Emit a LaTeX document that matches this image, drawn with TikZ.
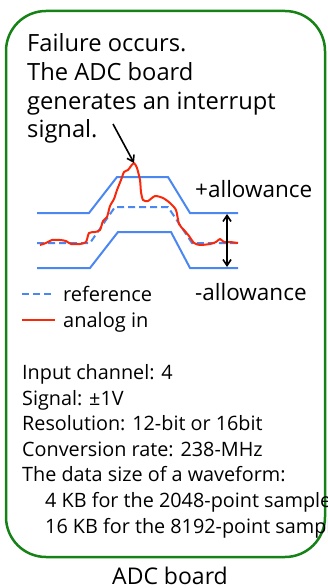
\documentclass[tikz,border=0pt]{standalone}
\usepackage{fontspec}
\setmainfont{Open Sans}
\usetikzlibrary{arrows.meta}
\definecolor{boxgreen}{RGB}{20,130,20}
\definecolor{limblue}{RGB}{75,135,240}
\definecolor{sigred}{RGB}{250,40,10}
\tikzset{limit/.style = {color = limblue, line width = 2pt}}
\tikzset{refline/.style = {limit, dash pattern = on 7pt off 4pt}}
\tikzset{sigline/.style = {color = sigred, line width = 2pt, line join = round}}
\tikzset{txt/.style = {anchor = base west, inner sep = 0}}
\tikzset{big/.style = {txt, font = \fontsize{23.7}{28}\selectfont}}
\tikzset{small/.style = {txt, font = \fontsize{19.8}{25}\selectfont}}
\tikzset{ptr/.style = {-{Straight Barb[length=6pt, width=8pt]}, line width = 1.6pt}}

\begin{document}
\begin{tikzpicture}[x = 1pt, y = -1pt]
    \useasboundingbox (0,0) rectangle (328,588);
    \clip (0,0) rectangle (328,588);
    \draw[color = boxgreen, line width = 2.5pt, rounded corners = 40pt] (6,11) rectangle (325,557);
    % message
    \node[big] (fail) at (27,52) {Failure occurs.};
    \node[big] (adc) at (27,81) {The ADC board};
    \node[big] (gen) at (27,110) {generates an interrupt};
    \node[big] (sig) at (27,138) {signal.};
    % allowance band
    \draw[limit] (37,213) -- (89,213) -- (117,177) -- (168,177) -- (190,213) -- (238,213);
    \draw[limit] (37,268) -- (90,268) -- (118,232) -- (171,232) -- (190,268) -- (238,268);
    \draw[refline] (37,243) -- (90,243) -- (115,207) -- (168,207) -- (192,243) -- (238,243);
    \draw[sigline] plot[smooth, tension = 0.4] coordinates {
        (40,245) (46,243) (52,240) (60,240) (66,241) (71,244) (80,244) (86,242)
        (89,233) (95,232) (100,230) (103,221) (107,217) (110,206) (114,199)
        (117,190) (121,180) (124,172) (128,170) (131,166) (134,163) (137,168)
        (140,180) (141,192) (143,200) (148,201) (155,196) (163,198) (170,203)
        (176,210) (179,224) (184,230) (189,236) (194,243) (200,245) (210,244)
        (216,242) (220,239) (224,242) (230,242) (238,243)};
    \coordinate (peak) at (134,163);
    \coordinate (tail) at (113,124);
    \draw[ptr] (tail) -- (peak);
    \coordinate (hi) at (227,214);
    \coordinate (lo) at (227,267);
    \draw[ptr, {Straight Barb[length=6pt, width=8pt]}-{Straight Barb[length=6pt, width=8pt]}] (hi) -- (lo);
    \node[txt, font = \fontsize{22.5}{28}\selectfont] (plus) at (195,197) {+allowance};
    \node[txt, font = \fontsize{22.5}{28}\selectfont] (minus) at (195,300) {-allowance};
    % legend
    \coordinate (refkey) at (22,294);
    \coordinate (sigkey) at (22,320);
    \draw[refline] (refkey) -- ++(32,0);
    \draw[sigline] (sigkey) -- ++(33,0);
    \node[txt, font = \fontsize{20}{25}\selectfont] (reflab) at (63,301) {reference};
    \node[txt, font = \fontsize{20}{25}\selectfont] (siglab) at (63,327) {analog in};
    % specs
    \node[small] (chan) at (22,379) {Input channel: 4};
    \node[small] (volt) at (22,405) {Signal: ±1V};
    \node[small] (res) at (22,430.5) {Resolution: 12-bit or 16bit};
    \node[small] (rate) at (22,456) {Conversion rate: 238-MHz};
    \node[small] (size) at (22,481.5) {The data size of a waveform:};
    \node[small] (kb4) at (45,507.5) {4 KB for the 2048-point samples};
    \node[small] (kb16) at (45,533) {16 KB for the 8192-point samples};
    \node[inner sep = 0, anchor = base, font = \fontsize{23}{28}\selectfont] (title) at (170,584) {ADC board};
\end{tikzpicture}
\end{document}
